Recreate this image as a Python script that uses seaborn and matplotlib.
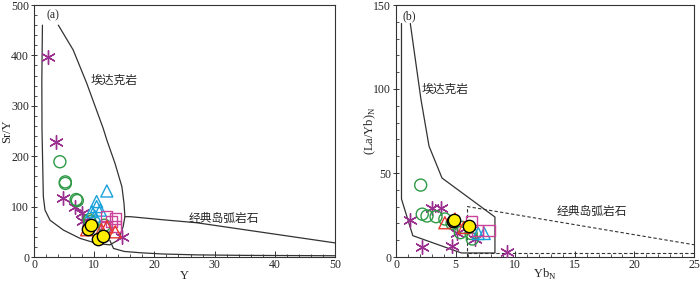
import numpy as np
import pandas as pd
import matplotlib
matplotlib.use("Agg")
import matplotlib.pyplot as plt
from matplotlib.ticker import MultipleLocator
import seaborn as sns

sns.set_style("ticks")
plt.rcParams['font.family'] = ['Liberation Serif', 'Noto Sans CJK SC']
plt.rcParams['mathtext.fontset'] = 'custom'
plt.rcParams['mathtext.rm'] = 'Liberation Serif'

# ---------------- data (a): Y vs Sr/Y ----------------
a_star_x = [2.3, 3.7, 4.8, 6.8, 8.0, 8.1, 14.6]
a_star_y = [397, 228, 117, 100, 88, 72, 40]
a_circ_x = [4.3, 5.2, 5.2, 7.0, 7.2, 9.2, 9.3, 11.7, 11.8]
a_circ_y = [189, 149, 146, 114, 112, 74, 70, 63, 58]
a_ctri_x = [12.1, 10.4, 10.4, 9.6, 11.0, 10.1]
a_ctri_y = [131, 110, 100, 90, 93, 81]
a_sq_x = [12.0, 13.6, 12.9, 12.1, 13.5]
a_sq_y = [81, 77, 70, 60, 60]
a_rtri_x = [13.5, 8.75, 11.2, 12.1]
a_rtri_y = [50, 54, 54, 60]
a_yel_x = [9.0, 9.4, 10.7, 11.4]
a_yel_y = [55, 63, 36, 42]

# field boundaries (a)
a_adak_x = [1.4, 1.3, 1.33, 1.55, 1.83, 2.66, 4.87, 7.64, 10.4, 12.6, 14.0, 14.8, 15.1, 14.95,
            14.6, 13.45, 12.1, 11.5, 8.75, 6.5, 4.04]
a_adak_y = [460, 350, 252, 120, 93, 73, 53.5, 37, 27, 24, 33.7, 60, 80, 106.5,
            139.5, 186, 232, 255, 345, 411, 460]
a_arc_top_x = [15.1, 16.0, 21.3, 27.0, 50]
a_arc_top_y = [80, 80, 74, 68, 28]
a_arc_bot_x = [12.6, 13.2, 15.0, 17.6, 21.3, 27.0, 35, 50]
a_arc_bot_y = [33, 17, 11, 8.5, 6, 4.2, 3.2, 2.5]

# ---------------- data (b): YbN vs (La/Yb)N ----------------
b_star_x = [1.17, 2.16, 3.0, 3.75, 4.7, 9.3, 5.1, 6.6]
b_star_y = [22, 6.1, 28.9, 29, 6.5, 3.2, 14, 11]
b_circ_x = [2.07, 2.2, 2.6, 3.36, 4.1, 4.7, 5.4, 6.4, 5.6, 6.3]
b_circ_y = [42.8, 25.5, 24.4, 24, 22.6, 20, 14.5, 10.7, 17.6, 14]
b_rtri_x = [4.1, 4.95, 5.7]
b_rtri_y = [20.4, 22.6, 17.6]
b_sq_x = [6.35, 6.8, 7.8]
b_sq_y = [21, 16, 16]
b_ctri_x = [7.4, 6.9]
b_ctri_y = [14, 14]
b_yel_x = [4.75, 4.9, 6.15]
b_yel_y = [21.4, 22.0, 18.4]

b_adak_x = [0.46, 0.46, 1.41, 5.49, 8.3, 8.3, 3.86, 2.77, 2.09, 1.2]
b_adak_y = [139, 34.5, 12.7, 2.4, 2.4, 23.8, 47, 66, 94, 139]
b_arc_x = [6.0, 6.0, 25]
b_arc_y = [0, 30, 7.3]
b_arc2_x = [6.0, 25]
b_arc2_y = [2.5, 2.5]

C_STAR = '#9b2f8f'
C_GREEN = '#2e9a46'
C_CYAN = '#1ba1db'
C_MAG = '#cc4499'
C_RED = '#e8352c'
C_YEL = '#ffee00'

fig = plt.figure(figsize=(7.0, 2.84), dpi=100)
axA = fig.add_axes([34/700, 27/284, 301/700, 252/284])
axB = fig.add_axes([396/700, 27/284, 298/700, 252/284])

S = 75


def draw_points(ax, sx, sy, cx, cy, ctx, cty, sqx, sqy, rtx, rty, yx, yy):
    sns.scatterplot(x=sx, y=sy, ax=ax, marker=(6, 2, 0), s=S*1.3, color=C_STAR,
                    linewidth=1.0, zorder=3)
    sns.scatterplot(x=cx, y=cy, ax=ax, marker='o', s=S, facecolor='none',
                    edgecolor=C_GREEN, linewidth=1.0, zorder=3)
    sns.scatterplot(x=ctx, y=cty, ax=ax, marker='^', s=S, facecolor='none',
                    edgecolor=C_CYAN, linewidth=1.0, zorder=3)
    sns.scatterplot(x=sqx, y=sqy, ax=ax, marker='s', s=S*0.85, facecolor='none',
                    edgecolor=C_MAG, linewidth=1.0, zorder=3)
    sns.scatterplot(x=rtx, y=rty, ax=ax, marker='^', s=S, facecolor='none',
                    edgecolor=C_RED, linewidth=1.0, zorder=3)
    sns.scatterplot(x=yx, y=yy, ax=ax, marker='o', s=S*1.05, facecolor=C_YEL,
                    edgecolor='black', linewidth=1.0, zorder=4)


# ---- panel (a)
axA.plot(a_adak_x, a_adak_y, color='#333333', lw=0.9, zorder=2)
axA.plot(a_arc_top_x, a_arc_top_y, color='#333333', lw=0.9, zorder=2)
axA.plot(a_arc_bot_x, a_arc_bot_y, color='#333333', lw=0.9, zorder=2)
draw_points(axA, a_star_x, a_star_y, a_circ_x, a_circ_y, a_ctri_x, a_ctri_y,
            a_sq_x, a_sq_y, a_rtri_x, a_rtri_y, a_yel_x, a_yel_y)
axA.set_xlim(0, 50)
axA.set_ylim(0, 500)
axA.xaxis.set_major_locator(MultipleLocator(10))
axA.xaxis.set_minor_locator(MultipleLocator(2))
axA.yaxis.set_major_locator(MultipleLocator(100))
axA.yaxis.set_minor_locator(MultipleLocator(20))
axA.set_xlabel('Y', fontsize=9)
axA.set_ylabel('Sr/Y', fontsize=9)
axA.xaxis.set_label_coords(0.5, -0.05)
axA.yaxis.set_label_coords(-0.07, 0.5)
axA.text(3.2, 480, '(a)', fontsize=8.5, ha='center', va='center')
axA.text(13.3, 350, '埃达克岩', fontsize=8.5, ha='center', va='center',
         family=['Noto Sans CJK SC'])
axA.text(31.6, 77, '经典岛弧岩石', fontsize=8.5, ha='center', va='center',
         family=['Noto Sans CJK SC'])

# ---- panel (b)
axB.plot(b_adak_x, b_adak_y, color='#333333', lw=0.9, zorder=2)
axB.plot(b_arc_x, b_arc_y, color='#333333', lw=0.8, ls=(0, (3, 2)), zorder=2)
axB.plot(b_arc2_x, b_arc2_y, color='#333333', lw=0.8, ls=(0, (3, 2)), zorder=2)
draw_points(axB, b_star_x, b_star_y, b_circ_x, b_circ_y, b_ctri_x, b_ctri_y,
            b_sq_x, b_sq_y, b_rtri_x, b_rtri_y, b_yel_x, b_yel_y)
axB.set_xlim(0, 25)
axB.set_ylim(0, 150)
axB.xaxis.set_major_locator(MultipleLocator(5))
axB.xaxis.set_minor_locator(MultipleLocator(1))
axB.yaxis.set_major_locator(MultipleLocator(50))
axB.yaxis.set_minor_locator(MultipleLocator(10))
axB.set_xlabel(r'Yb$_\mathrm{N}$', fontsize=9)
axB.set_ylabel(r'(La/Yb)$_\mathrm{N}$', fontsize=9)
axB.xaxis.set_label_coords(0.5, -0.04)
axB.yaxis.set_label_coords(-0.06, 0.5)
axB.text(1.15, 143, '(b)', fontsize=8.5, ha='center', va='center')
axB.text(4.1, 100, '埃达克岩', fontsize=8.5, ha='center', va='center',
         family=['Noto Sans CJK SC'])
axB.text(16.4, 27, '经典岛弧岩石', fontsize=8.5, ha='center', va='center',
         family=['Noto Sans CJK SC'])

for ax in (axA, axB):
    for sp in ax.spines.values():
        sp.set_visible(True)
        sp.set_linewidth(0.8)
        sp.set_color('#333333')
    ax.tick_params(axis='both', which='major', labelsize=8.5, direction='inout',
                   length=4, width=0.7, pad=1.5, color='#333333')
    ax.tick_params(axis='both', which='minor', direction='in', length=2.5,
                   width=0.6, color='#333333')
    ax.tick_params(top=False, right=False, which='both')
    ax.tick_params(axis='x', which='major', direction='in')

fig.savefig('out.png', dpi=100)
